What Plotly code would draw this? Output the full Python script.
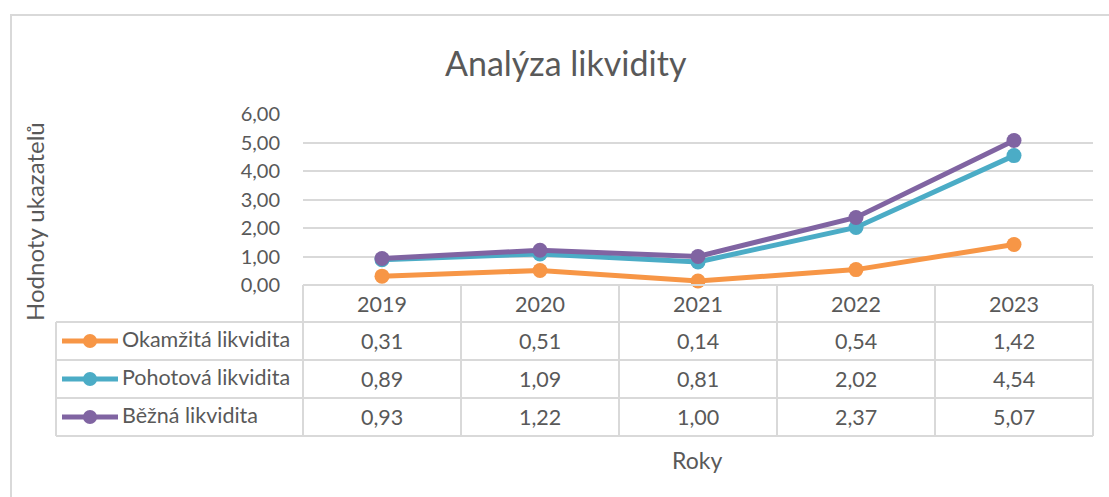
import plotly.graph_objects as go

# data
years = ["2019", "2020", "2021", "2022", "2023"]
series_names = ["Okamžitá likvidita", "Pohotová likvidita", "Běžná likvidita"]
okamzita = [0.31, 0.51, 0.14, 0.54, 1.42]
pohotova = [0.89, 1.09, 0.81, 2.02, 4.54]
bezna = [0.93, 1.22, 1.00, 2.37, 5.07]
y_ticks = [0, 1, 2, 3, 4, 5, 6]

series_values = [okamzita, pohotova, bezna]
colors = ["#F79646", "#4BACC6", "#8064A2"]

W, H = 1109, 497
FONT = "Lato"
TXT = "#595959"
GRID = "#D9D9D9"

# pixel layout
x_left, x_right = 303, 1093
y_top6, y_zero = 114, 285
col_w = (x_right - x_left) / len(years)
row_lines = [285, 322, 360, 398, 436]
tbl_left = 56

fig = go.Figure()

for name, vals, c in zip(series_names, series_values, colors):
    fig.add_trace(go.Scatter(
        x=years, y=vals, name=name, mode="lines+markers",
        line=dict(color=c, width=5),
        marker=dict(color=c, size=15),
        showlegend=False, cliponaxis=False,
    ))

# legend keys inside table (pixel overlay axis)
for i, c in enumerate(colors):
    yc = (row_lines[i + 1] + row_lines[i + 2]) / 2
    fig.add_trace(go.Scatter(
        x=[62, 118], y=[yc, yc], mode="lines", line=dict(color=c, width=5),
        xaxis="x2", yaxis="y2", showlegend=False, hoverinfo="skip",
    ))
    fig.add_trace(go.Scatter(
        x=[90], y=[yc], mode="markers", marker=dict(color=c, size=14),
        xaxis="x2", yaxis="y2", showlegend=False, hoverinfo="skip",
    ))

shapes = []
line_style = dict(color=GRID, width=2)
# chart border
shapes.append(dict(type="rect", xref="x2", yref="y2", x0=11, y0=15, x1=W + 10, y1=H + 10,
                   line=dict(color=GRID, width=2), layer="below"))
# table horizontal lines
shapes.append(dict(type="line", xref="x2", yref="y2", x0=x_left, x1=x_right,
                   y0=row_lines[0], y1=row_lines[0], line=line_style))
for yy in row_lines[1:]:
    shapes.append(dict(type="line", xref="x2", yref="y2", x0=tbl_left, x1=x_right,
                       y0=yy, y1=yy, line=line_style))
# table vertical lines
for k in range(len(years) + 1):
    xx = x_left + k * col_w
    shapes.append(dict(type="line", xref="x2", yref="y2", x0=xx, x1=xx,
                       y0=row_lines[0], y1=row_lines[-1], line=line_style))
shapes.append(dict(type="line", xref="x2", yref="y2", x0=tbl_left, x1=tbl_left,
                   y0=row_lines[1], y1=row_lines[-1], line=line_style))

annotations = []
cell_font = dict(family=FONT, size=21.5, color=TXT)
for j, yr in enumerate(years):
    xc = x_left + (j + 0.5) * col_w
    annotations.append(dict(x=xc, y=(row_lines[0] + row_lines[1]) / 2, xref="x2", yref="y2",
                            text=yr, showarrow=False, font=cell_font))
    for i, vals in enumerate(series_values):
        yc = (row_lines[i + 1] + row_lines[i + 2]) / 2
        annotations.append(dict(x=xc, y=yc, xref="x2", yref="y2",
                                text=f"{vals[j]:.2f}".replace(".", ","),
                                showarrow=False, font=cell_font))
for i, name in enumerate(series_names):
    yc = (row_lines[i + 1] + row_lines[i + 2]) / 2
    annotations.append(dict(x=120, y=yc - 2, xref="x2", yref="y2", xanchor="left",
                            text=name, showarrow=False, font=cell_font))

annotations.append(dict(x=566, y=62, xref="x2", yref="y2", text="Analýza likvidity",
                        showarrow=False, font=dict(family=FONT, size=34, color=TXT)))
annotations.append(dict(x=34, y=222, xref="x2", yref="y2", text="Hodnoty ukazatelů",
                        textangle=-90, showarrow=False,
                        font=dict(family=FONT, size=24, color=TXT)))
annotations.append(dict(x=697, y=460, xref="x2", yref="y2", text="Roky",
                        showarrow=False, font=dict(family=FONT, size=23, color=TXT)))

fig.update_layout(
    width=W, height=H,
    margin=dict(l=0, r=0, t=0, b=0, pad=0),
    paper_bgcolor="white", plot_bgcolor="rgba(0,0,0,0)",
    separators=", ",
    font=dict(family=FONT, color=TXT),
    xaxis=dict(
        domain=[x_left / W, x_right / W], range=[-0.5, 4.5], automargin=False,
        showticklabels=False, showgrid=False, zeroline=False, fixedrange=True,
    ),
    yaxis=dict(
        domain=[(H - y_zero) / H, (H - y_top6) / H], range=[0, 6], automargin=False,
        tickvals=y_ticks, tickformat=".2f",
        tickfont=dict(family=FONT, size=20, color=TXT),
        ticklabelstandoff=22,
        showgrid=True, gridcolor=GRID, gridwidth=2, zeroline=False, showline=False,
    ),
    xaxis2=dict(domain=[0, 1], range=[0, W], visible=False, anchor="y2",
                automargin=False, fixedrange=True),
    yaxis2=dict(domain=[0, 1], range=[H, 0], visible=False, anchor="x2",
                automargin=False, fixedrange=True),
    shapes=shapes,
    annotations=annotations,
)

fig.write_html("out.html", config={"displayModeBar": False},
               post_script="document.body.style.margin='0';")
